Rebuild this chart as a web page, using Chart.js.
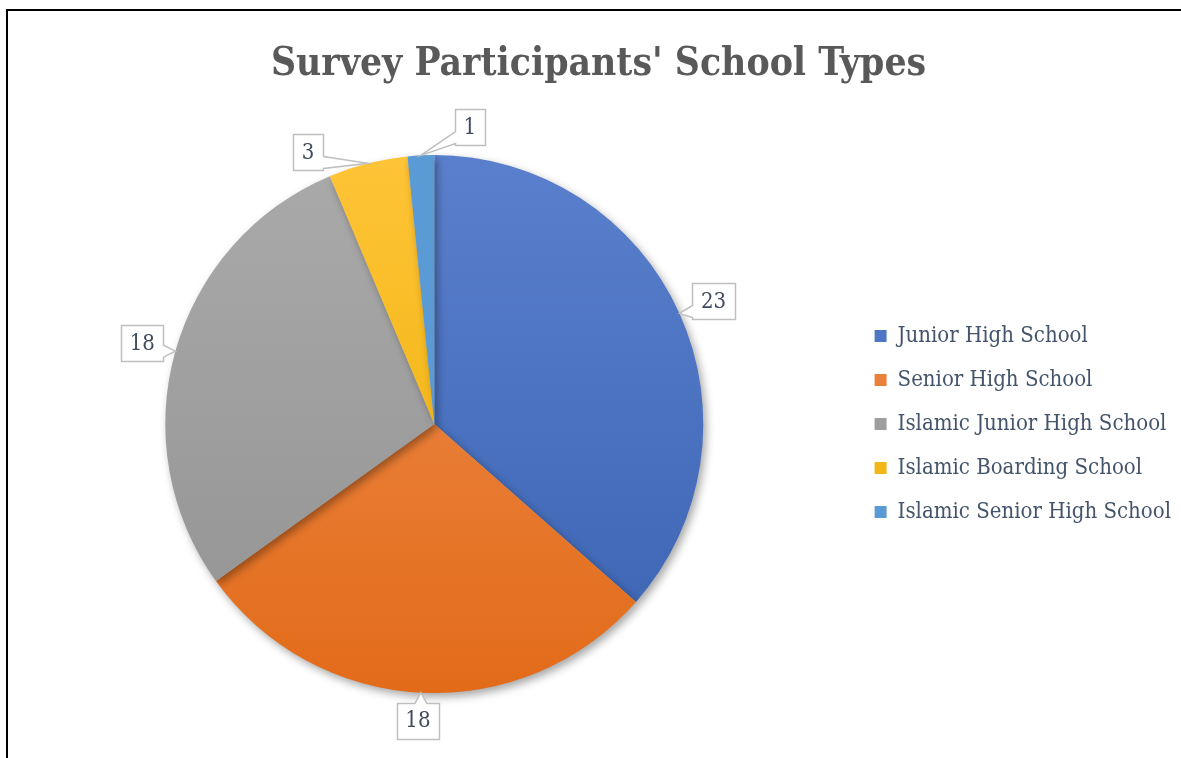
<!DOCTYPE html>
<html>
<head>
<meta charset="utf-8">
<script src="https://cdn.jsdelivr.net/npm/chart.js@4.4.1/dist/chart.umd.min.js"></script>
<style>
  html, body { margin: 0; padding: 0; background: #fff; overflow: hidden; }
  #frame { position: absolute; left: 6px; top: 9px; width: 1300px; height: 900px; border-left: 2px solid #000; border-top: 2px solid #000; }
  #wrap { position: absolute; left: 0; top: 0; width: 1181px; height: 758px; }
</style>
</head>
<body>
<div id="frame"></div>
<div id="wrap"><canvas id="pieChart"></canvas></div>
<script>
// datos del gráfico
const categories = ['Junior High School', 'Senior High School', 'Islamic Junior High School', 'Islamic Boarding School', 'Islamic Senior High School'];
const participants = [23, 18, 18, 3, 1];
const colorsLight = ['#5a80cd', '#f08f52', '#aaaaaa', '#ffc437', '#5b9bd5'];
const colorsDark = ['#3a63b1', '#e26b19', '#929292', '#e9ad00', '#5b9bd5'];
// desplazamiento de cada etiqueta respecto al borde de su porción
const labelOffsets = [[34, -12], [-3, 28], [-33, -8], [-60, -11], [49, -28]];

const serif = "'DejaVu Serif Condensed', 'DejaVu Serif', serif";

// sombra bajo el pastel
const shadowPlugin = {
  id: 'pieShadow',
  beforeDatasetDraw(chart) {
    const c = chart.ctx;
    c.save();
    c.shadowColor = 'rgba(0,0,0,0.35)';
    c.shadowBlur = 9;
    c.shadowOffsetX = 3;
    c.shadowOffsetY = 4;
  },
  afterDatasetDraw(chart) {
    chart.ctx.restore();
  }
};

// etiquetas con recuadro y flecha
const calloutPlugin = {
  id: 'callouts',
  afterDatasetsDraw(chart) {
    const c = chart.ctx;
    const arcs = chart.getDatasetMeta(0).data;
    c.save();
    c.font = "22px " + serif;
    c.textAlign = 'center';
    c.textBaseline = 'middle';
    arcs.forEach((arc, i) => {
      const p = arc.getProps(['x', 'y', 'startAngle', 'endAngle', 'outerRadius'], true);
      const mid = (p.startAngle + p.endAngle) / 2;
      const ax = p.x + Math.cos(mid) * p.outerRadius;
      const ay = p.y + Math.sin(mid) * p.outerRadius;
      const txt = String(participants[i]);
      const w = c.measureText(txt).width + 17;
      const h = 36;
      const cx = ax + labelOffsets[i][0];
      const cy = ay + labelOffsets[i][1];
      const L = Math.round(cx - w / 2) + 0.5, R = Math.round(cx + w / 2) + 0.5;
      const T = Math.round(cy - h / 2) + 0.5, B = Math.round(cy + h / 2) + 0.5;
      const hw = 6;
      const clamp = (v, lo, hi) => Math.max(lo, Math.min(hi, v));
      let pts;
      if (ax < L) {
        const by = clamp(ay, T + hw + 2, B - hw - 2);
        pts = [[L, T], [R, T], [R, B], [L, B], [L, by + hw], [ax, ay], [L, by - hw]];
      } else if (ax > R) {
        const by = clamp(ay, T + hw + 2, B - hw - 2);
        pts = [[L, T], [R, T], [R, by - hw], [ax, ay], [R, by + hw], [R, B], [L, B]];
      } else if (ay > B) {
        const bx = clamp(ax, L + hw + 2, R - hw - 2);
        pts = [[L, T], [R, T], [R, B], [bx + hw, B], [ax, ay], [bx - hw, B], [L, B]];
      } else {
        const bx = clamp(ax, L + hw + 2, R - hw - 2);
        pts = [[L, T], [bx - hw, T], [ax, ay], [bx + hw, T], [R, T], [R, B], [L, B]];
      }
      c.beginPath();
      pts.forEach((pt, k) => k ? c.lineTo(pt[0], pt[1]) : c.moveTo(pt[0], pt[1]));
      c.closePath();
      c.fillStyle = '#fff';
      c.fill();
      c.strokeStyle = '#bfbfbf';
      c.lineWidth = 1.5;
      c.stroke();
      c.fillStyle = '#404b5e';
      c.fillText(txt, cx, cy + 1);
    });
    c.restore();
  }
};

const ctx = document.getElementById('pieChart').getContext('2d');

const pieChart = new Chart(ctx, {
  type: 'pie',
  data: {
    labels: categories,
    datasets: [{
      data: participants,
      backgroundColor: (context) => {
        const i = context.dataIndex;
        const area = context.chart.chartArea;
        if (!area) return colorsDark[i];
        const g = context.chart.ctx.createLinearGradient(0, area.top, 0, area.bottom);
        g.addColorStop(0, colorsLight[i]);
        g.addColorStop(1, colorsDark[i]);
        return g;
      },
      borderWidth: 0
    }]
  },
  options: {
    responsive: true,
    maintainAspectRatio: false,
    animation: false,
    layout: {
      padding: { left: 16, right: 0, top: 0, bottom: 65 }
    },
    plugins: {
      title: {
        display: true,
        text: "Survey Participants' School Types",
        color: '#595959',
        font: { family: serif, size: 38.7, weight: 'bold' },
        padding: { top: 42, bottom: 66.6 }
      },
      legend: {
        position: 'right',
        align: 'center',
        fullSize: false,
        labels: {
          boxWidth: 12,
          boxHeight: 12,
          padding: 22,
          color: '#44546a',
          font: { family: serif, size: 22 }
        }
      },
      tooltip: { enabled: false }
    }
  },
  plugins: [shadowPlugin, calloutPlugin]
});
</script>
</body>
</html>
